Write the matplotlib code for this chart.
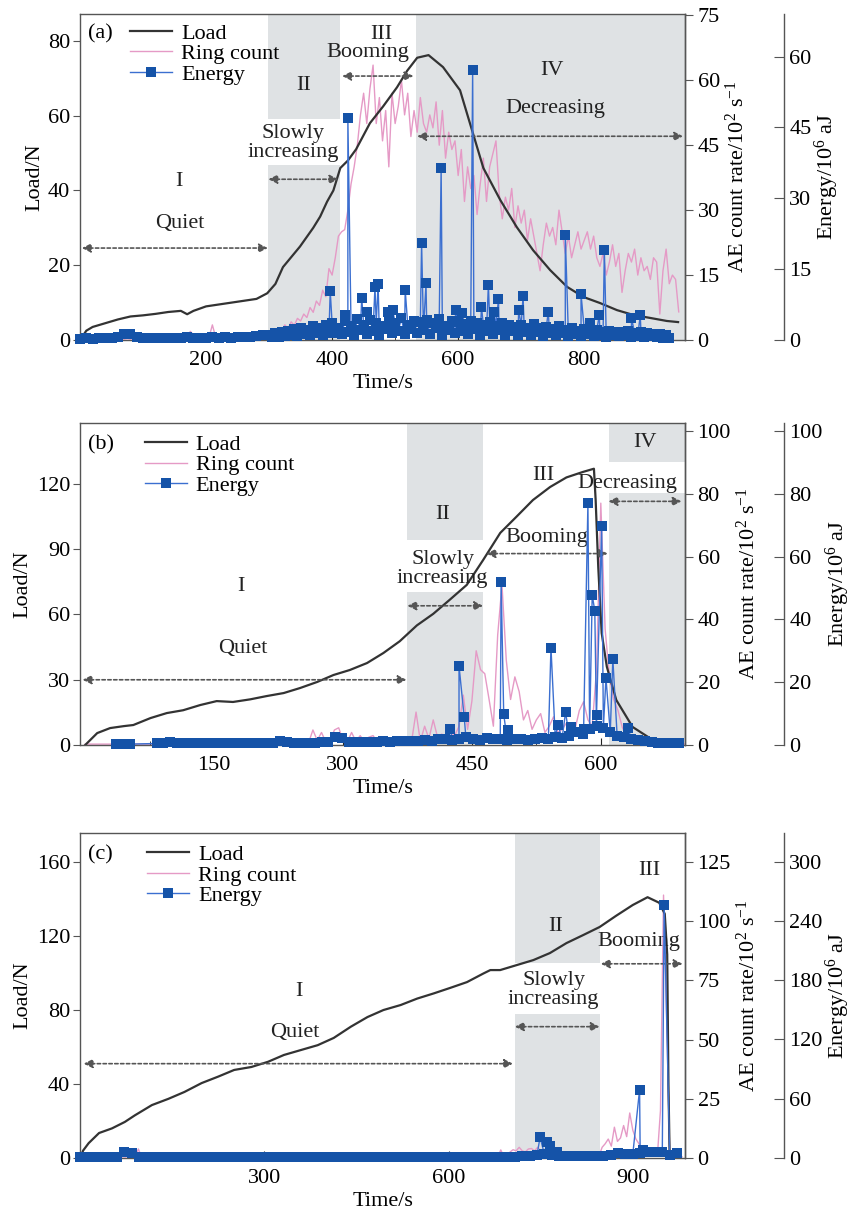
import matplotlib
matplotlib.use('Agg')
import matplotlib.pyplot as plt
from matplotlib.lines import Line2D
import numpy as np

plt.rcParams['font.family'] = ['Liberation Serif', 'DejaVu Serif']
plt.rcParams['font.size'] = 16
plt.rcParams['mathtext.fontset'] = 'custom'
plt.rcParams['mathtext.rm'] = 'Liberation Serif'
plt.rcParams['mathtext.it'] = 'Liberation Serif:italic'

LOAD_C = '#333333'
RING_C = '#e59ac6'
EN_LINE = '#3b6fd0'
EN_MARK = '#1553a8'
SHADE = '#dfe2e4'
ARROW_C = '#555555'
SPINE_C = '#555555'

# ---------------- panel (a) ----------------
load_a_t = [0, 10, 20, 40, 60, 80, 100, 120, 140, 160, 170, 180, 200, 220, 240, 260, 280, 297,
            310, 322, 349, 370, 381, 392, 402, 413, 425, 438, 460, 481, 503, 519, 535, 553,
            576, 603, 624, 640, 667, 693, 719, 746, 773, 799, 825, 852, 878, 905, 931, 949]
load_a = [0, 2.5, 3.5, 4.5, 5.5, 6.3, 6.6, 7.0, 7.5, 7.8, 6.9, 7.8, 9.0, 9.5, 10.0, 10.5, 11.0, 12.5,
          15, 19.5, 25, 30, 33, 37, 40, 46, 48, 51, 58, 62.5, 67.6, 72, 75.5, 76.2,
          73, 66.8, 55, 46, 37.4, 30.2, 24, 18.7, 14.2, 11.5, 9.9, 8, 6.7, 5.9, 5.1, 4.8]

# ring count, one value every 5 s from t = 0
ring_a = [0.2, 0.3, 0.2, 0.3, 0.2, 0.3, 0.3, 0.2, 0.3, 0.2,
          0.3, 0.2, 0.3, 0.3, 0.2, 0.3, 0.2, 0.3, 0.3, 0.2,
          0.3, 0.3, 0.4, 0.3, 0.3, 0.3, 0.9, 0.3, 0.4, 0.3,
          0.4, 0.3, 0.5, 0.4, 0.6, 2.0, 1.2, 0.5, 0.4, 0.6,
          0.5, 0.8, 3.5, 0.8, 0.5, 1.5, 0.6, 0.5, 0.7, 0.6,
          0.6, 0.8, 1.0, 0.6, 0.7, 1.4, 0.7, 0.8, 0.6, 0.9,
          1.2, 2.0, 1.5, 2.8, 2.2, 3.5, 2.6, 4.2, 3.4, 5.0,
          4.4, 6.0, 5.2, 7.5, 6.4, 9.0, 8.0, 11.5, 10.0, 16.5,
          15.0, 19.0, 24.0, 25.0, 25.5, 30.0, 36.0, 40.0, 45.0, 52.0,
          57.0, 50.0, 58.0, 63.5, 50.0, 56.0, 46.0, 53.0, 40.0, 57.0,
          50.0, 54.0, 60.0, 52.0, 57.0, 47.0, 53.0, 48.0, 56.0, 50.0,
          48.0, 52.0, 49.0, 55.0, 45.0, 53.0, 42.0, 48.0, 44.0, 46.0,
          38.0, 44.0, 32.0, 40.0, 35.0, 38.0, 29.0, 36.0, 42.0, 32.0,
          40.0, 43.0, 46.0, 34.0, 28.0, 33.0, 30.0, 35.0, 26.0, 31.0,
          27.0, 30.0, 23.0, 28.0, 24.0, 20.0, 16.0, 22.0, 27.0, 24.0,
          26.0, 22.0, 30.0, 25.0, 20.0, 24.0, 19.0, 22.0, 25.0, 21.0,
          23.0, 25.0, 21.0, 24.0, 19.0, 17.0, 20.0, 15.0, 18.0, 22.0,
          17.0, 20.0, 11.0, 16.0, 20.0, 18.0, 21.0, 15.0, 19.0, 16.0,
          17.0, 14.0, 19.0, 18.0, 6.0, 16.0, 21.0, 13.0, 15.0, 14.0, 6.5]

# energy baseline: every 10 s for 0-290 s, then every 5 s for 300-935 s
energy_a_quiet = [0.3, 0.4, 0.3, 0.4, 0.4, 0.5, 0.6, 1.2, 1.3, 0.6,
                  0.5, 0.4, 0.5, 0.4, 0.5, 0.4, 0.5, 0.6, 0.5, 0.5,
                  0.5, 0.6, 0.5, 0.6, 0.5, 0.6, 0.7, 0.6, 0.9, 1.0]
energy_a_busy = [1.0, 0.6, 1.4, 0.7, 1.8, 0.8, 2.0, 1.0, 2.3, 0.9,
                 2.6, 1.2, 2.2, 1.0, 3.0, 1.4, 2.5, 1.0, 3.2, 1.5,
                 3.5, 1.5, 2.6, 1.2, 4.0, 1.8, 3.0, 1.0, 4.5, 2.2,
                 3.2, 1.2, 4.2, 2.0, 3.6, 1.0, 3.0, 2.4, 4.4, 1.4,
                 3.6, 2.0, 4.6, 1.2, 3.2, 2.4, 4.0, 1.5, 3.8, 2.2,
                 4.2, 1.3, 3.5, 2.5, 4.4, 1.0, 3.0, 2.2, 4.0, 1.4,
                 3.8, 2.0, 3.3, 1.2, 4.1, 2.4, 3.6, 1.0, 3.2, 2.0,
                 3.9, 1.2, 3.0, 2.2, 3.6, 1.0, 3.2, 2.0, 2.8, 1.0,
                 3.1, 1.8, 2.6, 1.0, 3.3, 1.6, 2.5, 0.9, 2.8, 1.5,
                 2.4, 1.0, 2.9, 1.4, 2.2, 0.8, 2.5, 1.2, 2.0, 0.8,
                 2.4, 1.2, 2.0, 0.8, 2.2, 1.0, 1.8, 0.7, 2.0, 1.0,
                 1.8, 0.8, 1.6, 1.0, 1.9, 0.7, 1.5, 0.9, 1.8, 0.6,
                 1.5, 0.8, 1.3, 0.6, 1.2, 0.5, 1.0, 0.4]
energy_a_spike_t = [397, 421, 425, 447, 455, 468, 473, 489, 496, 516, 542, 549, 573, 596, 606,
                    623, 637, 648, 657, 664, 696, 703, 743, 770, 795, 810, 824, 832, 875, 889]
energy_a_spike = [10.4, 5.3, 46.9, 8.9, 6.0, 11.2, 11.8, 6.0, 6.4, 10.6, 20.5, 12.0, 36.5, 6.4, 5.7,
                  57.2, 7.0, 11.7, 6.0, 8.7, 6.4, 9.3, 6.0, 22.2, 9.7, 3.6, 5.3, 19.1, 4.7, 5.3]

# ---------------- panel (b) ----------------
load_b_t = [0, 14, 29, 45, 56, 76, 95, 114, 134, 153, 172, 192, 211, 231, 250, 270, 289, 308, 328,
            347, 366, 386, 405, 424, 444, 463, 483, 502, 521, 541, 560, 579, 592, 594, 597, 601,
            607, 618, 637, 657, 666]
load_b = [0, 5.5, 7.8, 8.7, 9.2, 12.4, 14.7, 16, 18.4, 20.2, 19.8, 21, 22.5, 23.9, 26.2, 29, 32.2,
          34.5, 37.7, 42.3, 47.7, 55, 60.3, 66.7, 73.6, 85, 97.5, 105, 112.6, 118.6, 123, 125.5,
          127, 112.6, 82, 51.5, 36, 20.7, 8.3, 3.2, 1.4]

ring_b = [0.3, 0.3, 0.3, 0.3, 0.3, 0.3, 0.3, 0.3, 0.3, 0.3,
          0.3, 0.3, 0.3, 0.3, 0.3, 0.3, 0.3, 0.3, 0.3, 0.3,
          0.3, 0.3, 0.4, 0.3, 0.3, 0.3, 0.4, 0.3, 0.3, 0.3,
          0.3, 0.3, 0.4, 0.3, 0.3, 0.3, 0.3, 0.3, 0.3, 0.4,
          0.3, 0.4, 0.3, 0.4, 0.3, 0.4, 0.3, 0.5, 0.4, 0.5,
          0.6, 1.0, 0.8, 4.8, 1.5, 4.0, 1.0, 1.2, 4.8, 5.5,
          1.5, 1.0, 4.0, 1.2, 3.0, 1.0, 2.5, 3.0, 1.0, 2.0,
          0.8, 1.0, 0.8, 1.2, 0.9, 1.0, 1.5, 10.5, 1.2, 6.0,
          2.0, 8.0, 2.5, 3.5, 2.0, 4.0, 3.0, 6.0, 15.9, 5.0,
          14.0, 30.0, 24.0, 22.7, 14.5, 6.0, 35.0, 51.0, 27.0, 14.5,
          21.7, 17.0, 8.0, 11.0, 5.0, 8.0, 10.0, 4.0, 6.0, 9.0,
          4.0, 5.0, 7.0, 3.0, 5.0, 11.0, 13.8, 8.0, 6.0, 24.0,
          77.0, 37.0, 21.7, 14.5, 11.0, 5.6, 3.0, 2.0, 1.5, 1.2,
          1.0, 0.8, 0.8, 0.6, 0.6, 0.5, 0.5, 0.4, 0.4, 0.4, 0.3]

energy_b_base_t = [36, 44, 52] + list(range(83, 692, 8))
energy_b_base = [0.3, 0.3, 0.3,
                 0.5, 0.8, 0.9, 0.8, 0.7, 0.6, 0.6, 0.5, 0.6, 0.5,
                 0.5, 0.5, 0.6, 0.5, 0.5, 0.6, 0.6, 0.8, 1.2, 1.1,
                 0.7, 0.7, 0.8, 0.8, 0.9, 0.9, 2.5, 2.4, 1.0, 0.9,
                 1.0, 1.1, 1.0, 1.2, 1.1, 1.2, 1.3, 1.2, 1.4, 1.5,
                 1.4, 1.8, 2.0, 1.6, 1.8, 2.5, 2.0, 1.6, 2.2, 1.8,
                 2.0, 1.6, 1.8, 2.0, 1.5, 1.8, 2.2, 2.0, 2.5, 2.2,
                 3.0, 4.0, 3.5, 5.0, 6.0, 5.5, 4.0, 3.0, 2.5, 2.0,
                 1.5, 1.2, 1.0, 0.8, 0.8, 0.6, 0.5]
energy_b_spike_t = [425, 435, 441, 484, 487, 492, 542, 550, 559, 565, 580,
                    585, 590, 593, 595, 601, 606, 614, 632]
energy_b_spike = [5.1, 25.2, 9.0, 52.0, 9.9, 4.8, 31.0, 6.4, 10.5, 5.7, 5.0,
                  77.0, 47.8, 42.7, 9.6, 69.7, 21.3, 27.4, 5.4]

# ---------------- panel (c) ----------------
load_c_t = [0, 5, 14, 31, 52, 73, 89, 117, 144, 170, 198, 225, 251, 279, 306, 332, 360, 387, 413,
            441, 468, 494, 522, 549, 576, 603, 630, 657, 668, 684, 711, 738, 765, 792, 819, 846,
            873, 900, 924, 943, 952, 956, 958, 960]
load_c = [0, 4, 8, 13.5, 16, 19.5, 23, 28.6, 32, 35.7, 40.5, 44, 47.6, 49.2, 52, 55.7, 58.4, 61,
          64.9, 71, 76.2, 80, 82.7, 86.2, 89, 92, 95.1, 99.8, 101.6, 101.6, 104.3, 107, 110.8,
          116.2, 120.5, 124.9, 131, 136.8, 141, 138, 132, 110, 40, 0]

ring_c = [0.3, 0.3, 0.3, 0.4, 0.3, 0.3, 0.4, 0.3, 0.3, 0.4,
          0.3, 0.3, 0.4, 0.3, 0.5, 0.4, 2.0, 0.5, 0.5, 3.8,
          0.5, 0.4, 0.3, 0.3, 0.4, 0.3, 0.3, 0.3, 0.4, 0.3,
          0.3, 0.3, 0.3, 0.4, 0.3, 0.3, 0.3, 0.3, 0.4, 0.3,
          0.3, 0.3, 0.4, 0.3, 0.3, 0.3, 0.3, 0.4, 0.3, 0.3,
          0.3, 0.3, 0.3, 0.4, 0.3, 0.3, 0.3, 0.3, 0.3, 0.4,
          0.3, 0.3, 0.3, 0.3, 0.4, 0.3, 0.3, 0.3, 0.3, 0.3,
          0.4, 0.3, 0.3, 0.3, 0.3, 0.3, 0.4, 0.3, 0.3, 0.3,
          0.3, 0.3, 0.4, 0.3, 0.3, 0.3, 0.3, 0.3, 0.4, 0.3,
          0.3, 0.3, 0.3, 0.3, 0.4, 0.3, 0.3, 0.3, 0.3, 0.3,
          0.4, 0.3, 0.3, 0.3, 0.3, 0.4, 0.3, 0.3, 0.3, 0.3,
          0.3, 0.4, 0.3, 0.3, 0.3, 0.3, 0.3, 0.4, 0.3, 0.3,
          0.3, 0.3, 0.4, 0.3, 0.3, 0.5, 0.3, 0.4, 0.3, 0.3,
          0.4, 0.3, 0.5, 0.4, 0.6, 0.5, 0.4, 3.4, 0.6, 0.8,
          2.5, 3.5, 3.0, 4.5, 3.0, 2.6, 3.8, 4.0, 3.0, 4.5,
          3.0, 2.5, 2.0, 1.0, 1.5, 0.8, 2.4, 1.0, 0.8, 0.7,
          2.5, 0.8, 0.6, 0.7, 0.6, 0.5, 2.0, 0.5, 0.6, 0.8,
          4.5, 6.0, 8.0, 5.0, 13.0, 7.0, 8.5, 13.7, 9.0, 19.0,
          11.7, 8.0, 6.0, 3.0, 1.5, 1.0, 1.2, 0.8, 1.0, 20.0,
          111.0, 60.0, 3.0, 0.6, 0.5, 0.5, 0.5]

# energy baseline, one value every 12 s from t = 0
energy_c_base = [0.5, 0.8, 1.0, 1.0, 0.8, 1.2, 6.0, 5.0, 1.0, 0.8,
                 0.8, 1.0, 0.8, 0.8, 1.0, 0.8, 0.8, 1.0, 0.8, 0.8,
                 0.8, 1.0, 0.8, 1.0, 0.8, 0.8, 1.0, 0.8, 0.8, 1.0,
                 0.8, 1.0, 0.8, 0.8, 1.0, 0.8, 0.8, 1.0, 0.8, 0.8,
                 1.0, 0.8, 0.8, 1.0, 0.8, 0.8, 1.0, 0.8, 0.8, 1.0,
                 0.8, 0.8, 1.0, 0.8, 0.8, 1.0, 0.8, 0.8, 1.0, 1.2,
                 1.5, 2.0, 3.0, 4.0, 3.0, 2.0, 2.0, 1.5, 1.5, 1.5,
                 2.0, 2.5, 3.0, 5.0, 4.0, 4.0, 5.0, 6.0, 6.0, 6.0,
                 3.0, 5.0]
energy_c_spike_t = [749, 760, 765, 776, 911, 916, 951]
energy_c_spike = [21, 16, 12, 6, 69, 8, 256]


def merge(base_t, base_v, spike_t, spike_v):
    t = np.concatenate([np.asarray(base_t, float), np.asarray(spike_t, float)])
    v = np.concatenate([np.asarray(base_v, float), np.asarray(spike_v, float)])
    order = np.argsort(t, kind='stable')
    return t[order], v[order]


fig = plt.figure(figsize=(8.55, 12.17), dpi=100)


def panel(rect, tag, load_t, load_v, ring_t, ring_v, en_t, en_v, xlim, xticks, xminor,
          ylims, yticks, shades, notes, arrows, leg_xy):
    ax = fig.add_axes(rect)
    ax_r = ax.twinx()
    ax_e = ax.twinx()
    ax_r.set_zorder(0)
    ax.set_zorder(1)
    ax_e.set_zorder(2)
    ax.patch.set_visible(False)
    ax_r.patch.set_visible(True)
    ax_r.patch.set_facecolor('white')

    for x0, x1, y0, y1 in shades:
        ax_r.axvspan(x0, x1, ymin=y0, ymax=y1, color=SHADE, lw=0, zorder=0)

    ax_r.plot(ring_t, ring_v, color=RING_C, lw=1.0)
    ax.plot(load_t, load_v, color=LOAD_C, lw=1.6)
    ax_e.plot(en_t, en_v, '-s', color=EN_LINE, lw=1.0, ms=7, mfc=EN_MARK, mec=EN_MARK,
              mew=0, clip_on=False)

    ax.set_xlim(*xlim)
    ax.set_ylim(0, ylims[0])
    ax_r.set_ylim(0, ylims[1])
    ax_e.set_ylim(0, ylims[2])
    ax.set_xticks(xticks)
    ax.set_xticks(xminor, minor=True)
    ax.set_yticks(yticks[0])
    ax_r.set_yticks(yticks[1])
    ax_e.set_yticks(yticks[2])

    ax_e.spines['right'].set_position(('axes', 1.163))
    for a in (ax_r, ax_e):
        for s in ('left', 'top', 'bottom'):
            a.spines[s].set_visible(False)
    for a in (ax, ax_r, ax_e):
        for s in a.spines.values():
            s.set_color(SPINE_C)
            s.set_linewidth(1.0)

    ax.tick_params(axis='y', direction='out', length=5, pad=2, color=SPINE_C)
    ax.tick_params(axis='x', which='major', direction='in', length=5, pad=8, color='#222222')
    ax.tick_params(axis='x', which='minor', direction='in', length=3, color='#222222')
    ax_r.tick_params(axis='y', direction='out', length=6, pad=3, color=SPINE_C)
    ax_e.tick_params(axis='y', direction='in', length=7, pad=4, color=SPINE_C)

    ax.set_xlabel('Time/s', labelpad=3)
    ax.set_ylabel('Load/N', labelpad=3)
    ax_r.set_ylabel(r'AE count rate/10$^{2}$ s$^{-1}$', labelpad=4)
    ax_e.set_ylabel(r'Energy/10$^{6}$ aJ', labelpad=1)

    for x, y, s in notes:
        ax.text(x, y, s, ha='center', va='center', linespacing=1.0, color='#222222')
    for x0, x1, y in arrows:
        ax.annotate('', xy=(x1, y), xytext=(x0, y),
                    arrowprops=dict(arrowstyle='<|-|>', color=ARROW_C, lw=1.2,
                                    linestyle=(0, (2, 1.5)), mutation_scale=13,
                                    shrinkA=0, shrinkB=0))

    ax_e.text(0.013, leg_xy[1] - 0.032, tag, transform=ax.transAxes, ha='left', va='center')
    handles = [Line2D([], [], color=LOAD_C, lw=1.6),
               Line2D([], [], color=RING_C, lw=1.0),
               Line2D([], [], color=EN_LINE, lw=1.0, marker='s', ms=7, mfc=EN_MARK,
                      mec=EN_MARK, mew=0)]
    ax_e.legend(handles, ['Load', 'Ring count', 'Energy'], loc='upper left',
                bbox_to_anchor=leg_xy, frameon=False, borderpad=0, borderaxespad=0,
                handlelength=1.9, handletextpad=0.4, labelspacing=0.0)
    return ax


energy_a_t = np.concatenate([10 * np.arange(len(energy_a_quiet)),
                             300 + 5 * np.arange(len(energy_a_busy))])
panel([0.0936, 0.7206, 0.7076, 0.2679], '(a)',
      load_a_t, load_a, 5 * np.arange(len(ring_a)), ring_a,
      *merge(energy_a_t, energy_a_quiet + energy_a_busy, energy_a_spike_t, energy_a_spike),
      xlim=(0, 960), xticks=[200, 400, 600, 800], xminor=[100, 300, 500, 700, 900],
      ylims=(87.2, 75.3, 69.0),
      yticks=([0, 20, 40, 60, 80], [0, 15, 30, 45, 60, 75], [0, 15, 30, 45, 60]),
      shades=[(299, 413, 0.678, 1.0), (299, 413, 0.0, 0.537), (533, 960, 0.0, 1.0)],
      notes=[(157, 42.5, 'I'), (159, 31.3, 'Quiet'), (354, 68, 'II'),
             (338, 52.7, 'Slowly\nincreasing'), (478, 81.8, 'III'), (456, 77.0, 'Booming'),
             (749, 72, 'IV'), (754, 62, 'Decreasing')],
      arrows=[(3, 298, 24.6), (299, 410, 43), (416, 529, 70.6), (535, 957, 54.5)],
      leg_xy=(0.083, 0.972))

panel([0.0936, 0.3878, 0.7076, 0.2646], '(b)',
      load_b_t, load_b, 5 * np.arange(len(ring_b)), ring_b,
      *merge(energy_b_base_t, energy_b_base, energy_b_spike_t, energy_b_spike),
      xlim=(-6, 698), xticks=[150, 300, 450, 600], xminor=[75, 225, 375, 525, 675],
      ylims=(148, 102.5, 102.5),
      yticks=([0, 30, 60, 90, 120], [0, 20, 40, 60, 80, 100], [0, 20, 40, 60, 80, 100]),
      shades=[(375, 463, 0.637, 1.0), (375, 463, 0.0, 0.475),
              (609, 698, 0.879, 1.0), (609, 698, 0.0, 0.783)],
      notes=[(181, 73, 'I'), (183, 44.6, 'Quiet'), (416, 106, 'II'),
             (416, 81, 'Slowly\nincreasing'), (533, 124, 'III'), (537, 95.6, 'Booming'),
             (651, 139, 'IV'), (631, 120, 'Decreasing')],
      arrows=[(-3, 374, 30), (375, 463, 64), (467, 608, 88), (609, 694, 112)],
      leg_xy=(0.107, 0.965))

panel([0.0936, 0.0485, 0.7076, 0.2670], '(c)',
      load_c_t, load_c, 5 * np.arange(len(ring_c)), ring_c,
      *merge(12 * np.arange(len(energy_c_base)), energy_c_base, energy_c_spike_t, energy_c_spike),
      xlim=(0, 985), xticks=[300, 600, 900], xminor=[150, 450, 750],
      ylims=(175.7, 137.2, 329),
      yticks=([0, 40, 80, 120, 160], [0, 25, 50, 75, 100, 125], [0, 60, 120, 180, 240, 300]),
      shades=[(708, 846, 0.6, 1.0), (708, 846, 0.0, 0.443)],
      notes=[(357, 90, 'I'), (350, 67.6, 'Quiet'), (775, 125, 'II'),
             (771, 91, 'Slowly\nincreasing'), (927, 155.6, 'III'), (909, 117, 'Booming')],
      arrows=[(6, 705, 51), (708, 846, 71), (848, 981, 105)],
      leg_xy=(0.111, 0.965))

fig.savefig('out.png', dpi=100)
